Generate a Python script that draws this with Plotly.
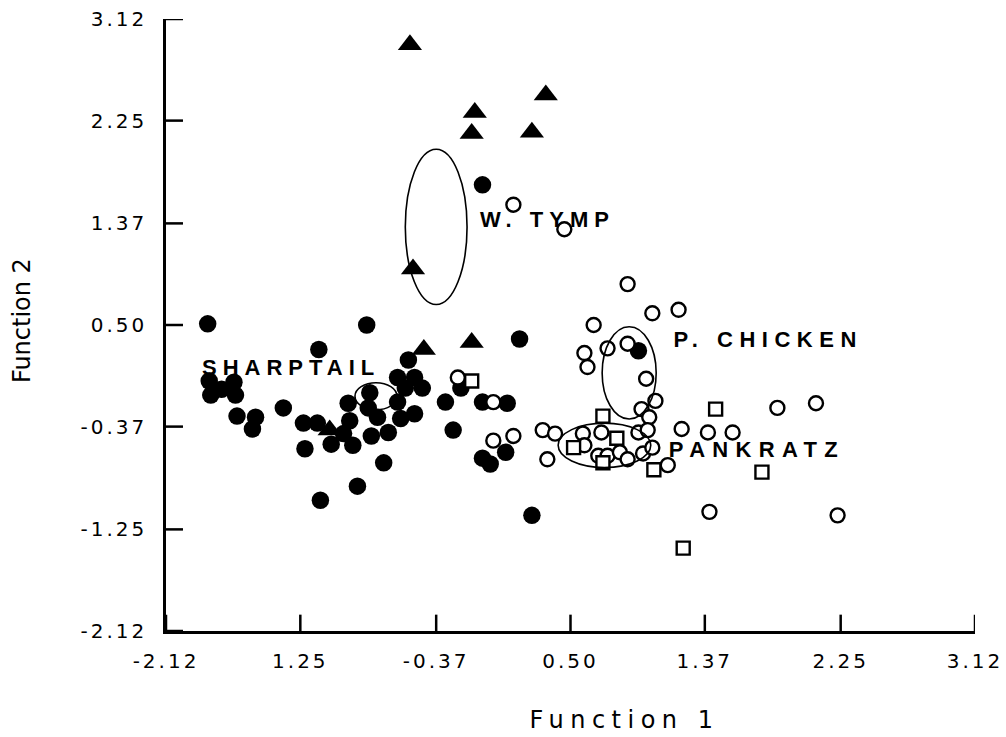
import plotly.graph_objects as go

# ---- data ----
tick_vals = [-2.12, -1.25, -0.37, 0.50, 1.37, 2.25, 3.12]
x_tick_text = ["-2.12", "1.25", "-0.37", "0.50", "1.37", "2.25", "3.12"]
y_tick_text = ["-2.12", "-1.25", "-0.37", "0.50", "1.37", "2.25", "3.12"]

sharptail_x = [-1.85, -0.82, -1.13, -0.55, -1.84, -1.83, -1.76, -1.68, -1.67, -1.66,
               -1.54, -1.56, -1.36, -1.23, -1.14, -1.22, -1.05, -0.91, -0.94, -0.93,
               -0.97, -0.80, -0.81, -0.75, -0.79, -0.68, -0.62, -0.60, -0.51, -0.62,
               -0.51, -0.46, -0.57, -0.31, -0.26, -0.71, -0.88, -1.12, -0.21, -0.07,
               0.09, -0.07, -0.02, 0.08, -0.07, 0.17, 0.25, 0.94]
sharptail_y = [0.51, 0.50, 0.29, 0.20, 0.02, -0.10, -0.05, 0.01, -0.10, -0.28,
               -0.29, -0.39, -0.21, -0.34, -0.34, -0.56, -0.52, -0.53, -0.17, -0.32,
               -0.43, -0.08, -0.21, -0.29, -0.45, -0.42, -0.16, -0.30, -0.26, 0.05,
               0.05, -0.04, -0.04, -0.16, -0.40, -0.68, -0.88, -1.00, -0.04, -0.16,
               -0.17, -0.64, -0.69, -0.59, 1.70, 0.38, -1.13, 0.28]

wtymp_x = [-0.54, -0.12, -0.14, 0.34, 0.25, -0.52, -0.45, -0.14, -1.06]
wtymp_y = [2.90, 2.32, 2.14, 2.47, 2.15, 0.98, 0.29, 0.35, -0.40]

pchicken_x = [0.13, 0.46, 0.87, 1.03, 1.20, 0.65, 0.59, 0.61, 0.74, 0.87,
              0.99, 1.05, 0.96, 1.01, 0.94, 1.00, 0.97, 1.03, 1.13, 1.22,
              1.39, 1.55, 1.84, 2.09, 1.40, 2.23, -0.23, 0.00, 0.00, 0.13,
              0.32, 0.40, 0.35, 0.58, 0.70, 0.59, 0.68, 0.74, 0.82, 0.87]
pchicken_y = [1.53, 1.32, 0.85, 0.60, 0.63, 0.50, 0.26, 0.14, 0.30, 0.34,
              0.04, -0.15, -0.22, -0.29, -0.42, -0.40, -0.60, -0.55, -0.70, -0.39,
              -0.42, -0.42, -0.21, -0.17, -1.10, -1.13, 0.05, -0.16, -0.49, -0.45,
              -0.40, -0.43, -0.65, -0.43, -0.42, -0.53, -0.62, -0.62, -0.59, -0.65]

pankratz_x = [-0.14, 0.52, 0.71, 0.80, 0.71, 1.04, 1.44, 1.74, 1.23]
pankratz_y = [0.02, -0.55, -0.28, -0.47, -0.68, -0.74, -0.22, -0.76, -1.41]

# group ellipses: Sharptail, W. Tymp, Pankratz, P. Chicken
ell_cx = [-0.76, -0.37, 0.72, 0.88]
ell_cy = [-0.11, 1.34, -0.53, 0.09]
ell_rx = [0.136, 0.20, 0.30, 0.175]
ell_ry = [0.116, 0.665, 0.19, 0.395]

label_text = ["SHARPTAIL", "W. TYMP", "P. CHICKEN", "PANKRATZ"]
label_x = [-1.31, 0.35, 1.78, 1.71]
label_y = [0.14, 1.40, 0.38, -0.57]
label_spacing = [6, 6, 6.5, 7.3]

x_title = "Function 1"
y_title = "Function 2"
title_spacing = [6.5, 0]
tick_spacing = 3

axis_min, axis_max = -2.12, 3.12
tick_len_x = 0.11   # inward tick length in axis units (style)
tick_len_y = 0.14

# ---- figure ----
fig = go.Figure()

fig.add_trace(go.Scatter(x=sharptail_x, y=sharptail_y, mode="markers", name="Sharptail",
                         marker=dict(symbol="circle", size=17.5, color="black",
                                     line=dict(width=0))))
fig.add_trace(go.Scatter(x=wtymp_x, y=wtymp_y, mode="markers", name="W. Tymp",
                         marker=dict(symbol="triangle-up", size=21, color="black",
                                     line=dict(width=0))))
fig.add_trace(go.Scatter(x=pchicken_x, y=pchicken_y, mode="markers", name="P. Chicken",
                         marker=dict(symbol="circle", size=14, color="white",
                                     line=dict(width=2.4, color="black"))))
fig.add_trace(go.Scatter(x=pankratz_x, y=pankratz_y, mode="markers", name="Pankratz",
                         marker=dict(symbol="square", size=13, color="white",
                                     line=dict(width=2.4, color="black"))))

for cx, cy, rx, ry in zip(ell_cx, ell_cy, ell_rx, ell_ry):
    fig.add_shape(type="circle", xref="x", yref="y",
                  x0=cx - rx, x1=cx + rx, y0=cy - ry, y1=cy + ry,
                  line=dict(color="black", width=1.6), layer="above")

# inward tick marks at the axes' tick values (data-referenced line shapes)
for v in tick_vals:
    fig.add_shape(type="line", xref="x", yref="y", x0=v, x1=v,
                  y0=axis_min, y1=axis_min + tick_len_y,
                  line=dict(color="black", width=2.5), layer="above")
    fig.add_shape(type="line", xref="x", yref="y", x0=axis_min, x1=axis_min + tick_len_x,
                  y0=v, y1=v,
                  line=dict(color="black", width=2.5), layer="above")

label_font = dict(family="Liberation Sans, Arial", size=22, color="black", weight="bold")
for t, lx, ly in zip(label_text, label_x, label_y):
    fig.add_annotation(x=lx, y=ly, xref="x", yref="y", text=t, showarrow=False,
                       xanchor="center", yanchor="middle", font=label_font)

title_font = dict(family="DejaVu Sans, Liberation Sans", size=24, color="black")
fig.add_annotation(x=0.567, y=-0.1454, xref="paper", yref="paper", text=x_title,
                   showarrow=False, xanchor="center", yanchor="middle", font=title_font)
fig.add_annotation(x=-0.178, y=0.508, xref="paper", yref="paper", text=y_title,
                   showarrow=False, xanchor="center", yanchor="middle", textangle=-90,
                   font=title_font)

axis_common = dict(showline=True, linecolor="black", linewidth=2.5, mirror=False,
                   showgrid=False, zeroline=False, ticks="", range=[axis_min, axis_max],
                   tickvals=tick_vals, automargin=False, layer="above traces",
                   tickfont=dict(family="DejaVu Sans, Liberation Sans", size=20,
                                 color="black"))

fig.update_layout(
    width=1006, height=737,
    margin=dict(l=166, r=31, t=19, b=106),
    paper_bgcolor="white", plot_bgcolor="white",
    showlegend=False, hovermode=False,
    xaxis=dict(axis_common, ticktext=x_tick_text, ticklabelstandoff=10),
    yaxis=dict(axis_common, ticktext=y_tick_text, ticklabelstandoff=12),
)

spacing_js = ",".join(str(s) for s in label_spacing + title_spacing)
post = """
document.body.style.margin = '0';
var gd = document.getElementById('{plot_id}');
function applySpacing(){
  var sp = [%s];
  gd.querySelectorAll('.annotation-text').forEach(function(e, i){
    if (i < sp.length && sp[i] > 0) { e.style.letterSpacing = sp[i] + 'px'; }
  });
  gd.querySelectorAll('.xtick text, .ytick text').forEach(function(e){
    e.style.letterSpacing = '%spx';
  });
}
applySpacing();
gd.on('plotly_afterplot', applySpacing);
""" % (spacing_js, tick_spacing)

fig.write_html("out.html", config={"displayModeBar": False}, post_script=post)
